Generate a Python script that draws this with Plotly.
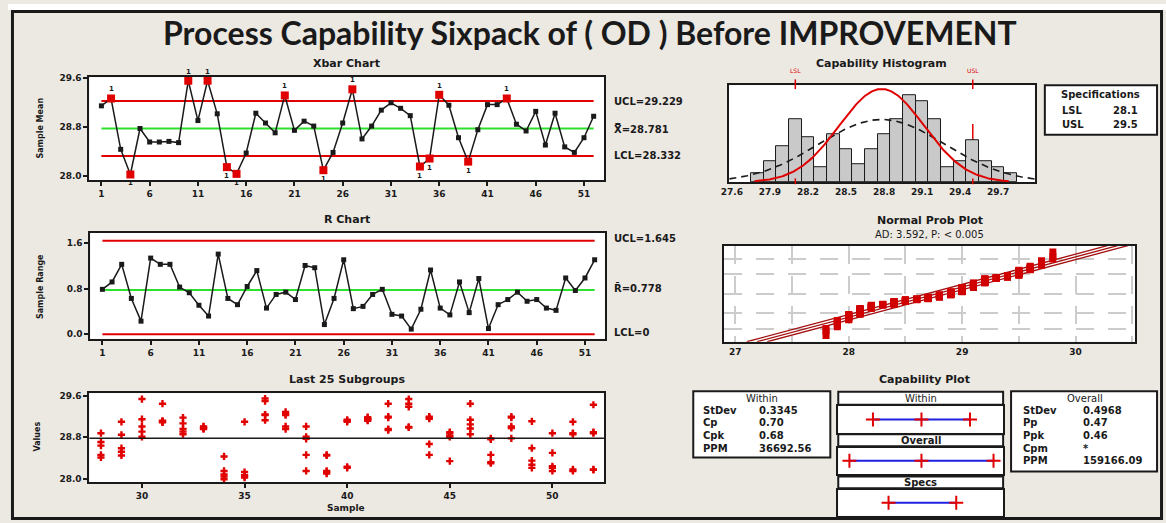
import math
from statistics import NormalDist

import numpy as np
import plotly.graph_objects as go

W, H = 1166, 523
FONT = "DejaVu Sans"
INK = "#1a1a1a"
RED = "#e00000"
DARKRED = "#a31010"
GREEN = "#2ee02e"
BLUE = "#2020e0"
BEIGE = "#ece8e2"

# ---- subgroup summaries (52 subgroups of 5) ----
subgroups = list(range(1, 53))
xbar_values = [29.15, 29.27, 28.44, 28.03, 28.78, 28.56, 28.56, 28.57, 28.55, 29.56,
               28.91, 29.56, 29.02, 28.15, 28.04, 28.38, 29.03, 28.87, 28.71, 29.32,
               28.75, 28.90, 28.82, 28.10, 28.39, 28.87, 29.42, 28.61, 28.82, 29.08,
               29.20, 29.11, 28.99, 28.16, 28.29, 29.33, 29.16, 28.63, 28.24, 28.76,
               29.17, 29.17, 29.27, 28.85, 28.74, 29.06, 28.51, 29.03, 28.48, 28.39,
               28.63, 28.98]
range_values = [0.79, 0.92, 1.23, 0.63, 0.23, 1.34, 1.23, 1.23, 0.83, 0.73,
                0.51, 0.32, 1.41, 0.63, 0.52, 0.84, 1.12, 0.46, 0.70, 0.74,
                0.61, 1.21, 1.17, 0.17, 0.63, 1.31, 0.45, 0.49, 0.70, 0.79,
                0.35, 0.32, 0.09, 0.44, 1.13, 0.46, 0.34, 0.92, 0.38, 0.98,
                0.10, 0.52, 0.61, 0.74, 0.58, 0.61, 0.46, 0.42, 0.99, 0.77,
                0.99, 1.31]
xbar_ticks = [1, 6, 11, 16, 21, 26, 31, 36, 41, 46, 51]

XBAR_CL, XBAR_UCL, XBAR_LCL = 28.781, 29.229, 28.332
R_CL, R_UCL, R_LCL = 0.778, 1.645, 0.0

# ---- individual observations of the last 25 subgroups ----
last25_subgroups = list(range(28, 53))
last25_values = [
    [28.88, 28.71, 28.64, 28.46, 28.41],
    [29.10, 28.85, 28.59, 28.52, 28.45],
    [29.54, 29.15, 29.01, 28.91, 28.81],
    [29.45, 29.12, 29.10, 29.09, 29.11],
    [29.18, 29.07, 28.96, 28.91, 28.86],
    [29.01, 28.98, 28.96, 29.00, 28.97],
    [28.43, 28.15, 28.08, 28.04, 27.99],
    [29.10, 28.13, 28.07, 28.05, 28.02],
    [29.55, 29.50, 29.23, 29.13, 29.24],
    [29.29, 29.25, 29.23, 29.01, 28.96],
    [29.01, 28.81, 28.77, 28.46, 28.15],
    [28.46, 28.45, 28.15, 28.13, 28.10],
    [29.14, 29.12, 29.10, 28.21, 28.23],
    [29.19, 29.17, 29.15, 29.14, 29.12],
    [29.45, 29.20, 29.18, 28.96, 28.94],
    [29.54, 29.45, 29.39, 29.00, 28.99],
    [29.20, 29.18, 29.16, 28.67, 28.46],
    [28.90, 28.88, 28.83, 28.81, 28.34],
    [29.45, 29.14, 29.05, 28.97, 28.86],
    [28.78, 28.76, 28.46, 28.32, 28.30],
    [29.20, 29.18, 29.01, 28.98, 28.78],
    [29.11, 28.59, 28.35, 28.27, 28.21],
    [28.88, 28.50, 28.24, 28.21, 28.15],
    [29.10, 28.88, 28.86, 28.18, 28.15],
    [29.43, 28.90, 28.88, 28.18, 28.17],
]
last25_ticks = [30, 35, 40, 45, 50]

# ---- all observations, binned at 0.1 ----
hist_bins = [27.8, 27.9, 28.0, 28.1, 28.2, 28.3, 28.4, 28.5, 28.6, 28.7, 28.8,
             28.9, 29.0, 29.1, 29.2, 29.3, 29.4, 29.5, 29.6, 29.7, 29.8]
hist_counts = [3, 7, 12, 21, 15, 5, 16, 11, 6, 11, 16,
               21, 29, 27, 21, 5, 7, 14, 7, 5, 3]
BIN_WIDTH = 0.1
hist_ticks = [27.6, 27.9, 28.2, 28.5, 28.8, 29.1, 29.4, 29.7]
prob_ticks = [27, 28, 29, 30]
prob_grid_pct = [1, 10, 50, 90, 99]

LSL, USL = 28.1, 29.5
SD_WITHIN, SD_OVERALL = 0.3345, 0.4968

within_stats = [("StDev", "0.3345"), ("Cp", "0.70"), ("Cpk", "0.68"), ("PPM", "36692.56")]
overall_stats = [("StDev", "0.4968"), ("Pp", "0.47"), ("Ppk", "0.46"), ("Cpm", "*"),
                 ("PPM", "159166.09")]


def xdom(a, b):
    return [a / W, b / W]


def ydom(top, bottom):
    return [1 - bottom / H, 1 - top / H]


def axis(**kw):
    d = dict(showline=True, mirror=True, linecolor=INK, linewidth=2, ticks="outside",
             ticklen=4, tickwidth=1.5, tickcolor=INK, showgrid=False, zeroline=False,
             tickfont=dict(family=FONT, size=9, color=INK, weight="bold"), fixedrange=True)
    d.update(kw)
    return d


annotations = []
shapes = []


def text(s, x, y, size=10, anchor="center", color=INK, bold=True, angle=0, font=FONT):
    annotations.append(dict(text=f"<b>{s}</b>" if bold else s, x=x / W, y=1 - y / H,
                            xref="paper", yref="paper", xanchor=anchor, yanchor="middle",
                            showarrow=False, textangle=angle,
                            font=dict(family=font, size=size, color=color)))


def box(x0, y0, x1, y1, fill="white", width=2):
    shapes.append(dict(type="rect", xref="paper", yref="paper", x0=x0 / W, x1=x1 / W,
                       y0=1 - y1 / H, y1=1 - y0 / H, line=dict(color=INK, width=width),
                       fillcolor=fill, layer="below"))


fig = go.Figure()

# ---------- Xbar chart ----------
for lvl, col in [(XBAR_UCL, RED), (XBAR_LCL, RED), (XBAR_CL, GREEN)]:
    fig.add_trace(go.Scatter(x=[subgroups[0], subgroups[-1]], y=[lvl, lvl], mode="lines",
                             line=dict(color=col, width=2), xaxis="x", yaxis="y",
                             hoverinfo="skip"))
fig.add_trace(go.Scatter(x=subgroups, y=xbar_values, mode="lines+markers",
                         line=dict(color=INK, width=1.5),
                         marker=dict(symbol="square", size=5, color=INK),
                         xaxis="x", yaxis="y", cliponaxis=False))
ooc = [(s, v) for s, v in zip(subgroups, xbar_values) if v > XBAR_UCL or v < XBAR_LCL]
fig.add_trace(go.Scatter(x=[s for s, _ in ooc], y=[v for _, v in ooc], mode="markers",
                         marker=dict(symbol="square", size=8, color=RED),
                         xaxis="x", yaxis="y", cliponaxis=False))
for s, v in ooc:
    annotations.append(dict(text="<b>1</b>", x=s, y=v, xref="x", yref="y",
                            yshift=9 if v > XBAR_UCL else -9, showarrow=False,
                            font=dict(family=FONT, size=7, color=INK)))

# ---------- R chart ----------
for lvl, col in [(R_UCL, RED), (R_LCL, RED), (R_CL, GREEN)]:
    fig.add_trace(go.Scatter(x=[subgroups[0], subgroups[-1]], y=[lvl, lvl], mode="lines",
                             line=dict(color=col, width=2), xaxis="x2", yaxis="y2",
                             hoverinfo="skip"))
fig.add_trace(go.Scatter(x=subgroups, y=range_values, mode="lines+markers",
                         line=dict(color=INK, width=1.5),
                         marker=dict(symbol="square", size=5, color=INK),
                         xaxis="x2", yaxis="y2", cliponaxis=False))

# ---------- last 25 subgroups ----------
lx, ly = [], []
for s, vals in zip(last25_subgroups, last25_values):
    lx += [s] * len(vals)
    ly += vals
fig.add_trace(go.Scatter(x=lx, y=ly, mode="markers",
                         marker=dict(symbol="cross", size=6, color=RED),
                         xaxis="x3", yaxis="y3", cliponaxis=False))
shapes.append(dict(type="line", xref="x3 domain", x0=0, x1=1, yref="y3",
                   y0=XBAR_CL, y1=XBAR_CL, line=dict(color=INK, width=1.5)))

# ---------- capability histogram ----------
n_obs = sum(hist_counts)
fig.add_trace(go.Bar(x=hist_bins, y=hist_counts, width=BIN_WIDTH,
                     marker=dict(color="#c9c9c9", line=dict(color=INK, width=1)),
                     xaxis="x4", yaxis="y4"))


def normal_curve(mu, sd, lo, hi):
    xs = np.linspace(lo, hi, 240)
    ys = n_obs * BIN_WIDTH * np.exp(-0.5 * ((xs - mu) / sd) ** 2) / (sd * math.sqrt(2 * math.pi))
    return xs, ys


ox, oy = normal_curve(XBAR_CL, SD_OVERALL, 27.58, 29.99)
fig.add_trace(go.Scatter(x=ox, y=oy, mode="lines", line=dict(color=INK, width=1.6, dash="7px,5px"),
                         xaxis="x4", yaxis="y4"))
wx, wy = normal_curve(XBAR_CL, SD_WITHIN, XBAR_CL - 3 * SD_WITHIN, XBAR_CL + 3 * SD_WITHIN)
fig.add_trace(go.Scatter(x=wx, y=wy, mode="lines", line=dict(color=RED, width=2),
                         xaxis="x4", yaxis="y4"))
for spec, name in [(LSL, "LSL"), (USL, "USL")]:
    shapes.append(dict(type="line", xref="x4", x0=spec, x1=spec, yref="y4 domain",
                       y0=0, y1=0.6, line=dict(color=RED, width=1.5), layer="below"))
    shapes.append(dict(type="line", xref="x4", x0=spec, x1=spec, yref="y4 domain",
                       y0=0.96, y1=1.06, line=dict(color=RED, width=1.5)))
    shapes.append(dict(type="line", xref="x4", x0=spec, x1=spec, yref="y4 domain",
                       y0=-0.02, y1=0.04, line=dict(color=RED, width=1.5)))
    annotations.append(dict(text=name, x=spec, y=1.1, xref="x4", yref="y4 domain",
                            showarrow=False, yanchor="bottom",
                            font=dict(family=FONT, size=6, color=RED)))

# ---------- normal probability plot ----------
obs = np.repeat(hist_bins, hist_counts)
nd = NormalDist()
pp = [(i - 0.3) / (len(obs) + 0.4) for i in range(1, len(obs) + 1)]
zq = [nd.inv_cdf(p) for p in pp]
zline = np.array([-3.2, 3.2])
for off in (-0.09, 0.0, 0.09):
    fig.add_trace(go.Scatter(x=XBAR_CL + zline * SD_OVERALL + off, y=zline, mode="lines",
                             line=dict(color=DARKRED, width=1.3), xaxis="x5", yaxis="y5"))
fig.add_trace(go.Scatter(x=obs, y=zq, mode="markers",
                         marker=dict(symbol="square", size=7, color="#d00000"),
                         xaxis="x5", yaxis="y5"))

# ---------- capability plot intervals ----------
intervals = [
    ([XBAR_CL - 3 * SD_WITHIN, XBAR_CL, XBAR_CL + 3 * SD_WITHIN], "6"),
    ([XBAR_CL - 3 * SD_OVERALL, XBAR_CL, XBAR_CL + 3 * SD_OVERALL], "7"),
    ([LSL, USL], "8"),
]
for xs, k in intervals:
    fig.add_trace(go.Scatter(x=xs, y=[0.5] * len(xs), mode="lines+markers",
                             line=dict(color=BLUE, width=2),
                             marker=dict(symbol="cross-thin", size=10,
                                         line=dict(color=RED, width=2)),
                             xaxis="x" + k, yaxis="y" + k, cliponaxis=False))

# ---------- axes ----------
layout_axes = dict(
    xaxis=axis(domain=xdom(82, 600), range=[-0.24, 53.06], tickvals=xbar_ticks, anchor="y"),
    yaxis=axis(domain=ydom(74, 178), range=[27.935, 29.616], tickvals=[28.0, 28.8, 29.6],
               tickformat=".1f", anchor="x"),
    xaxis2=axis(domain=xdom(83, 601), range=[-0.24, 53.06], tickvals=xbar_ticks, anchor="y2"),
    yaxis2=axis(domain=ydom(231, 338), range=[-0.08, 1.785], tickvals=[0.0, 0.8, 1.6],
                tickformat=".1f", anchor="x2"),
    xaxis3=axis(domain=xdom(82, 600), range=[27.44, 52.51], tickvals=last25_ticks, anchor="y3"),
    yaxis3=axis(domain=ydom(393, 483), range=[27.929, 29.652], tickvals=[28.0, 28.8, 29.6],
                tickformat=".1f", anchor="x3"),
    xaxis4=axis(domain=xdom(726, 1034), range=[27.577, 29.99], tickvals=hist_ticks,
                tickformat=".1f", anchor="y4", ticks=""),
    yaxis4=axis(domain=ydom(82, 180), range=[0, 32.5], showticklabels=False, ticks="",
                anchor="x4"),
    xaxis5=axis(domain=xdom(721, 1135), range=[26.901, 30.526], tickvals=prob_ticks,
                anchor="y5", ticks="", showgrid=True, gridcolor="#cccccc", gridwidth=2,
                griddash="18px,12px",
                minor=dict(dtick=0.5, tick0=27, showgrid=True, gridcolor="#cccccc",
                           gridwidth=2, griddash="18px,12px")),
    yaxis5=axis(domain=ydom(244, 341), range=[-3.2, 3.2],
                tickvals=[nd.inv_cdf(p / 100) for p in prob_grid_pct],
                showticklabels=False, ticks="", showgrid=True, gridcolor="#cccccc",
                gridwidth=2, griddash="18px,14px", anchor="x5"),
)
for k, (top, bot) in zip(["6", "7", "8"], [(406, 433), (448, 474.5), (490.5, 516.5)]):
    layout_axes["xaxis" + k] = axis(domain=xdom(836, 1002), range=[27.06, 30.47],
                                    showticklabels=False, ticks="", anchor="y" + k)
    layout_axes["yaxis" + k] = axis(domain=ydom(top, bot), range=[0, 1],
                                    showticklabels=False, ticks="", anchor="x" + k)

# ---------- frame and boxes ----------
shapes.append(dict(type="rect", xref="paper", yref="paper", x0=0, x1=1, y0=1 - 6 / H, y1=1,
                   fillcolor="white", line=dict(width=0), layer="above"))
shapes.append(dict(type="rect", xref="paper", yref="paper", x0=4.5 / W, x1=1161.5 / W,
                   y0=1 - 519.5 / H, y1=1 - 7.5 / H, line=dict(color=INK, width=3),
                   layer="above"))
box(1044, 82, 1157, 132)          # specifications
box(690, 391, 828, 458)           # within stats
box(1010, 391, 1157, 472)         # overall stats
box(836, 391.5, 1002, 404.5)      # headers of capability plot
box(836, 434.5, 1002, 446.5)
box(836, 477, 1002, 489)

# ---------- text ----------
text("Process Capability Sixpack of ( OD ) Before IMPROVEMENT", 586, 29, size=32,
     font="Lato")
text("Xbar Chart", 341, 60, size=11)
text("R Chart", 341, 218, size=11)
text("Last 25 Subgroups", 341, 379, size=11)
text("Capability Histogram", 880, 60, size=11)
text("Normal Prob Plot", 928, 219, size=11)
text("AD: 3.592, P: &lt; 0.005", 928, 233, size=10, bold=False)
text("Capability Plot", 923, 379, size=11)

text("Sample Mean", 33, 125, size=8, angle=-90)
text("Sample Range", 33, 285, size=8, angle=-90)
text("Values", 30, 437, size=8, angle=-90)
text("Sample", 340, 509, size=9)

text(f"UCL={XBAR_UCL:.3f}", 608, 98, size=10, anchor="left")
text(f"X\u033f={XBAR_CL:.3f}", 608, 126, size=10, anchor="left")
text(f"LCL={XBAR_LCL:.3f}", 608, 153, size=10, anchor="left")
text(f"UCL={R_UCL:.3f}", 608, 237, size=10, anchor="left")
text(f"R\u0304={R_CL:.3f}", 608, 287, size=10, anchor="left")
text(f"LCL={R_LCL:g}", 608, 332, size=10, anchor="left")

text("Specifications", 1100, 91, size=10)
text("LSL", 1072, 108, size=10)
text(f"{LSL}", 1125, 108, size=10)
text("USL", 1072, 122, size=10)
text(f"{USL}", 1125, 122, size=10)

text("Within", 759, 398, size=10, bold=False)
for (lab, val), yy in zip(within_stats, [410, 423, 436, 449]):
    text(lab, 698, yy, size=10, anchor="left")
    text(val, 754, yy, size=10, anchor="left")
text("Overall", 1084, 398, size=10, bold=False)
for (lab, val), yy in zip(overall_stats, [410, 423, 436, 449, 461]):
    text(lab, 1020, yy, size=10, anchor="left")
    text(val, 1080, yy, size=10, anchor="left")
text("Within", 919, 398, size=10, bold=False)
text("Overall", 919, 440.5, size=10)
text("Specs", 919, 483, size=10)

fig.update_layout(
    width=W, height=H, margin=dict(l=0, r=0, t=0, b=0),
    paper_bgcolor=BEIGE, plot_bgcolor="white", showlegend=False,
    bargap=0, annotations=annotations, shapes=shapes, **layout_axes,
)

fig.write_html("out.html")
